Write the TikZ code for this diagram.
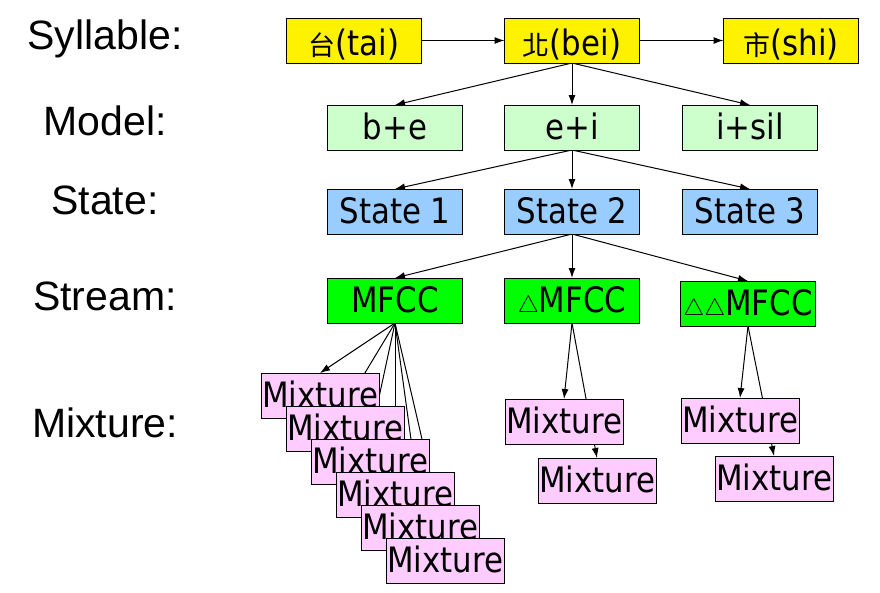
\documentclass[tikz,border=0pt]{standalone}
\usepackage{fontspec}
\setmainfont{DejaVu Sans}[FakeStretch=0.88]
\newfontfamily\labelfont{Liberation Sans}
\newfontfamily\cjk{Noto Sans CJK TC}
\usetikzlibrary{positioning,calc,arrows.meta,backgrounds}
\definecolor{modelgreen}{HTML}{CCFFCC}
\definecolor{stateblue}{HTML}{99CCFF}
\definecolor{mixpink}{HTML}{FFCCFF}
\newcommand{\dlt}{\resizebox{21pt}{!}{$\triangle$}}

\begin{document}
\begin{tikzpicture}[
  x = 1pt, y = -1pt,
  node distance = 42pt,
  box/.style={draw,line width=1pt,outer sep=0pt,minimum width=135pt,
    minimum height=45pt,inner sep=0pt,text height=24pt,text depth=0pt,
    font=\fontsize{35}{35}\selectfont},
  syllable/.style={box,fill=yellow,text height=29pt},
  model/.style={box,fill=modelgreen},
  state/.style={box,fill=stateblue},
  stream/.style={box,fill=green},
  mix/.style={box,minimum width=118pt,fill=mixpink},
  rowlabel/.style={anchor=base,font=\labelfont\fontsize{41}{41}\selectfont},
  arrow/.style={-{Latex[length=10pt,width=7pt]},line width=1pt},
  ]
  \useasboundingbox (0,0) rectangle (880,592);

  % row labels
  \node [rowlabel] (lsyl)    at (105,49)  {Syllable:};
  \node [rowlabel] (lmodel)  at (105,135) {Model:};
  \node [rowlabel] (lstate)  at (105,214) {State:};
  \node [rowlabel] (lstream) at (105,310) {Stream:};
  \node [rowlabel] (lmix)    at (105,437) {Mixture:};

  % syllables
  \node [syllable] (bei) at (572,40.5) {{\cjk\fontsize{27}{27}\selectfont 北}(bei)};
  \node [syllable, left=83pt of bei]  (tai) {{\cjk\fontsize{27}{27}\selectfont 台}(tai)};
  \node [syllable, right=84pt of bei] (shi) {{\cjk\fontsize{27}{27}\selectfont 市}(shi)};

  % models
  \node [model, below=42pt of bei] (ei)   {e+i};
  \node [model, left=of ei]        (be)   {b+e};
  \node [model, right=43pt of ei]  (isil) {i+sil};

  % states
  \node [state, below=39pt of ei]  (st2) {State 2};
  \node [state, left=of st2]       (st1) {State 1};
  \node [state, right=43pt of st2] (st3) {State 3};

  % streams
  \node [stream, below=44pt of st2] (dmfcc) {\dlt MFCC};
  \node [stream, left=of dmfcc]     (mfcc)  {MFCC};
  \node [stream, right=41pt of dmfcc, yshift=-3pt] (ddmfcc)
    {\makebox[128pt]{\dlt\dlt MFCC}};

  % mixtures
  \node [mix, below=50pt of mfcc, xshift=-75pt] (m1) {Mixture};
  \foreach \i [count=\j from 2] in {1,...,5}
    \node [mix] (m\j) at ($(m\i)+(25,33)$) {Mixture};
  \node [mix, below=76pt of dmfcc, xshift=-8pt] (dm1) {Mixture};
  \node [mix] (dm2) at ($(dm1)+(33,59)$) {Mixture};
  \node [mix, below=72pt of ddmfcc, xshift=-8pt] (ddm1) {Mixture};
  \node [mix] (ddm2) at ($(ddm1)+(34,58)$) {Mixture};

  \begin{scope}[on background layer]
    \draw [arrow] (tai) -- (bei);
    \draw [arrow] (bei) -- (shi);
    \foreach \n in {be,ei,isil}
      \draw [arrow] (bei.south) -- (\n.north);
    \foreach \n in {st1,st2,st3}
      \draw [arrow] (ei.south) -- (\n.north);
    \foreach \n in {mfcc,dmfcc,ddmfcc}
      \draw [arrow] (st2.south) -- (\n.north);
    \foreach \j in {1,...,6}
      \draw [arrow] (mfcc.south) -- (m\j.north);
    \draw [arrow] (dmfcc.south) -- (dm1.north);
    \draw [arrow] (dmfcc.south) -- (dm2.north);
    \draw [arrow] (ddmfcc.south) -- (ddm1.north);
    \draw [arrow] (ddmfcc.south) -- (ddm2.north);
  \end{scope}
\end{tikzpicture}
\end{document}
